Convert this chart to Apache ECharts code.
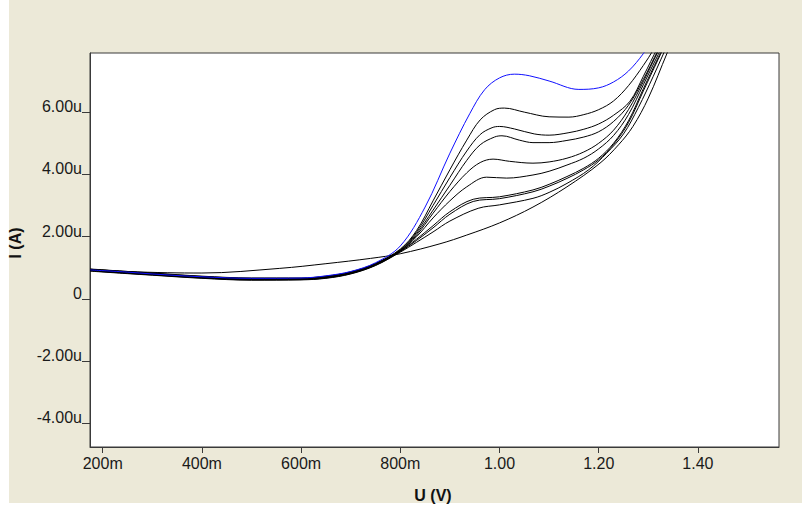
<!DOCTYPE html>
<html>
<head>
<meta charset="utf-8">
<script src="https://cdn.jsdelivr.net/npm/echarts@6/dist/echarts.min.js"></script>
<style>
  html, body { margin: 0; padding: 0; background: #ffffff; }
  #panel { position: absolute; left: 9px; top: 0; width: 793px; height: 503px; background: #ECE9D8; }
  #chart { position: absolute; left: 0; top: 0; width: 802px; height: 510px; }
</style>
</head>
<body>
<div id="panel"></div>
<div id="chart"></div>
<script>
// Axis ticks and their printed labels
const xTickValues = [0.2, 0.4, 0.6, 0.8, 1.0, 1.2, 1.4];
const xTickLabels = ['200m', '400m', '600m', '800m', '1.00', '1.20', '1.40'];
const yTickValues = [-4, -2, 0, 2, 4, 6];
const yTickLabels = ['-4.00u', '-2.00u', '0', '2.00u', '4.00u', '6.00u'];

// I-V sweeps: [U in volts, I in microamps]
const traceBlue = [[0.175,0.93],[0.25,0.86],[0.3,0.80],[0.4,0.71],[0.5,0.66],[0.6,0.67],[0.65,0.74],[0.7,0.88],[0.75,1.16],[0.8,1.70],
  [0.85,2.95],[0.9,4.68],[0.94,5.95],[0.97,6.72],[1.0,7.1],[1.03,7.22],[1.06,7.17],[1.1,7.0],[1.16,6.73],[1.2,6.78],[1.23,6.97],[1.26,7.32],[1.29,7.88],[1.32,8.6]];
const trace1 = [[0.175,0.96],[0.25,0.88],[0.3,0.83],[0.4,0.73],[0.5,0.67],[0.6,0.67],[0.65,0.73],[0.7,0.87],[0.75,1.14],[0.8,1.60],
  [0.833,2.2],[0.866,3.15],[0.9,4.15],[0.934,5.1],[0.961,5.75],[0.99,6.08],[1.01,6.13],[1.05,6.0],[1.1,5.85],[1.14,5.84],[1.17,5.92],[1.2,6.08],[1.23,6.36],[1.26,6.85],[1.29,7.5],[1.31,8.0],[1.33,8.6]];
const trace2 = [[0.175,0.95],[0.25,0.87],[0.3,0.82],[0.4,0.72],[0.5,0.66],[0.6,0.66],[0.65,0.72],[0.7,0.86],[0.75,1.13],[0.8,1.58],
  [0.833,2.15],[0.866,3.0],[0.9,3.9],[0.934,4.75],[0.961,5.28],[0.985,5.5],[1.0,5.54],[1.03,5.46],[1.07,5.3],[1.1,5.26],[1.14,5.34],[1.17,5.45],[1.2,5.62],[1.23,5.9],[1.263,6.35],[1.29,7.15],[1.32,8.1],[1.34,8.6]];
const trace3 = [[0.175,0.94],[0.25,0.86],[0.3,0.81],[0.4,0.71],[0.5,0.65],[0.6,0.65],[0.65,0.71],[0.7,0.85],[0.75,1.12],[0.8,1.56],
  [0.833,2.1],[0.866,2.85],[0.9,3.65],[0.934,4.45],[0.961,4.95],[0.99,5.2],[1.005,5.24],[1.04,5.1],[1.0675,5.02],[1.1,5.02],[1.136,5.09],[1.17,5.2],[1.2,5.37],[1.23,5.7],[1.26,6.22],[1.29,7.05],[1.32,8.0],[1.34,8.6]];
const trace4 = [[0.175,0.93],[0.25,0.85],[0.3,0.80],[0.4,0.70],[0.5,0.64],[0.6,0.64],[0.65,0.70],[0.7,0.84],[0.75,1.11],[0.8,1.55],
  [0.833,2.05],[0.866,2.75],[0.9,3.45],[0.934,4.05],[0.961,4.38],[0.987,4.49],[1.02,4.42],[1.0675,4.36],[1.1,4.4],[1.136,4.52],[1.17,4.72],[1.2,5.0],[1.23,5.42],[1.26,6.08],[1.29,6.98],[1.32,7.95],[1.345,8.6]];
const trace5 = [[0.175,0.92],[0.25,0.84],[0.3,0.79],[0.4,0.69],[0.5,0.63],[0.6,0.63],[0.65,0.69],[0.7,0.83],[0.75,1.10],[0.8,1.54],
  [0.833,2.0],[0.866,2.6],[0.9,3.15],[0.934,3.6],[0.974,3.91],[1.0145,3.88],[1.0675,3.98],[1.1,4.1],[1.136,4.30],[1.17,4.52],[1.2,4.82],[1.23,5.25],[1.26,5.92],[1.29,6.88],[1.32,7.85],[1.345,8.6]];
const trace6 = [[0.175,0.91],[0.25,0.83],[0.3,0.78],[0.4,0.68],[0.5,0.62],[0.6,0.62],[0.65,0.68],[0.7,0.82],[0.75,1.09],[0.8,1.53],
  [0.833,1.92],[0.866,2.35],[0.9,2.8],[0.947,3.2],[1.0,3.28],[1.0675,3.5],[1.1,3.68],[1.136,3.93],[1.17,4.2],[1.2,4.52],[1.23,5.0],[1.26,5.72],[1.29,6.75],[1.32,7.75],[1.35,8.7]];
const trace7 = [[0.175,0.90],[0.25,0.82],[0.3,0.77],[0.4,0.67],[0.5,0.61],[0.6,0.62],[0.65,0.67],[0.7,0.81],[0.75,1.08],[0.8,1.52],
  [0.833,1.88],[0.866,2.28],[0.9,2.72],[0.947,3.13],[1.0,3.22],[1.0675,3.44],[1.1,3.62],[1.136,3.87],[1.17,4.15],[1.2,4.47],[1.23,4.96],[1.26,5.66],[1.29,6.68],[1.32,7.7],[1.35,8.7]];
const trace8 = [[0.175,0.89],[0.25,0.81],[0.3,0.76],[0.4,0.66],[0.5,0.60],[0.6,0.61],[0.65,0.66],[0.7,0.80],[0.75,1.07],[0.8,1.50],
  [0.833,1.82],[0.866,2.15],[0.9,2.5],[0.957,2.91],[1.0,3.02],[1.0675,3.23],[1.1,3.42],[1.136,3.71],[1.18,4.15],[1.216,4.68],[1.25,5.3],[1.28,6.15],[1.31,7.15],[1.34,8.2],[1.36,8.8]];
const trace9 = [[0.175,0.95],[0.25,0.88],[0.33,0.84],[0.4,0.83],[0.557,0.98],[0.65,1.13],[0.74,1.30],[0.8,1.45],[0.88,1.77],[0.934,2.05],
  [1.0,2.44],[1.0675,2.95],[1.136,3.6],[1.2026,4.36],[1.24,4.95],[1.269,5.54],[1.3,6.45],[1.338,7.9],[1.36,8.7]];

const blackTraces = [trace9, trace8, trace7, trace6, trace5, trace4, trace3, trace2, trace1];

const labelFont = 'Liberation Sans, Arial, sans-serif';

function lineSeries(data, color, z) {
  return {
    type: 'line',
    data: data,
    smooth: 0.35,
    showSymbol: false,
    symbol: 'none',
    clip: true,
    z: z,
    lineStyle: { color: color, width: 1 },
    emphasis: { disabled: true }
  };
}

const chart = echarts.init(document.getElementById('chart'), null, { renderer: 'svg' });

const series = blackTraces.map((d, i) => lineSeries(d, '#000000', 2 + i));
series.push(lineSeries(traceBlue, '#1010ff', 20));

chart.setOption({
  animation: false,
  backgroundColor: 'transparent',
  grid: {
    left: 90, top: 53, right: 23, bottom: 63,
    show: true, backgroundColor: '#ffffff', borderColor: '#3a3a3a', borderWidth: 1
  },
  xAxis: {
    type: 'value',
    min: 0.1744, max: 1.5635,
    splitLine: { show: false },
    axisLine: { show: true, onZero: false, lineStyle: { color: '#3a3a3a', width: 1 } },
    axisTick: { show: true, length: 6, customValues: xTickValues, lineStyle: { color: '#3a3a3a' } },
    axisLabel: {
      customValues: xTickValues,
      formatter: v => xTickLabels[xTickValues.findIndex(t => Math.abs(t - v) < 1e-6)],
      margin: 8, fontSize: 16, color: '#1a1a1a', fontFamily: labelFont
    }
  },
  yAxis: {
    type: 'value',
    min: -4.76, max: 7.9,
    splitLine: { show: false },
    axisLine: { show: true, onZero: false, lineStyle: { color: '#3a3a3a', width: 1 } },
    axisTick: { show: true, length: 8, customValues: yTickValues, lineStyle: { color: '#3a3a3a' } },
    axisLabel: {
      customValues: yTickValues,
      formatter: v => yTickLabels[yTickValues.findIndex(t => Math.abs(t - v) < 1e-6)],
      margin: 8, fontSize: 16, color: '#1a1a1a', fontFamily: labelFont,
      verticalAlign: 'bottom', lineHeight: 11
    }
  },
  graphic: [
    {
      type: 'text', x: 433, y: 495,
      style: { text: 'U (V)', fontSize: 16, fontWeight: 'bold', fontFamily: labelFont, fill: '#111', align: 'center', verticalAlign: 'middle' }
    },
    {
      type: 'text', x: 15, y: 243, rotation: Math.PI / 2,
      style: { text: 'I (A)', fontSize: 16, fontWeight: 'bold', fontFamily: labelFont, fill: '#111', align: 'center', verticalAlign: 'middle' }
    }
  ],
  series: series
});
</script>
</body>
</html>
